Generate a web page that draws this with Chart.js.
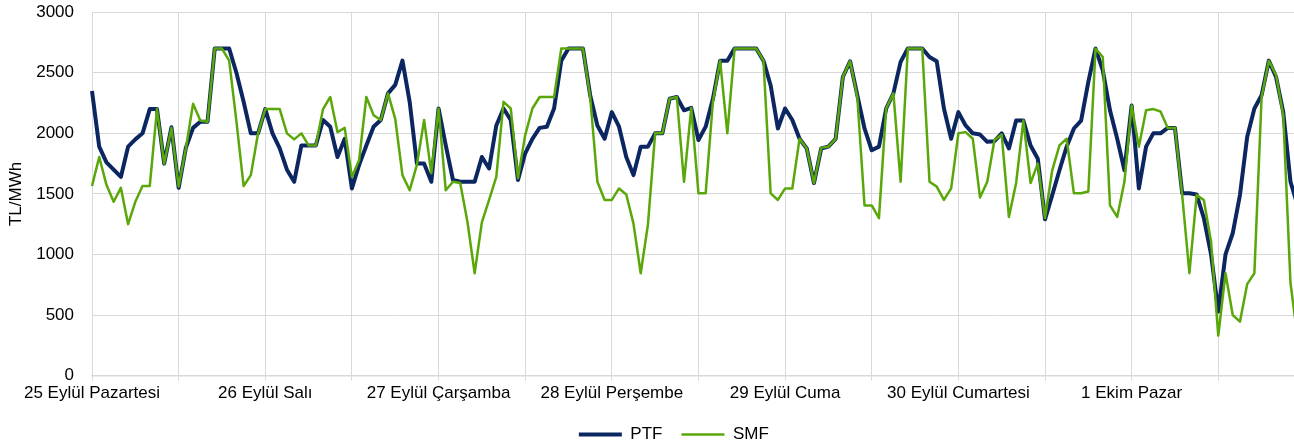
<!DOCTYPE html>
<html>
<head>
<meta charset="utf-8">
<script src="https://cdn.jsdelivr.net/npm/chart.js@4"></script>
<style>
  html, body { margin: 0; padding: 0; overflow: hidden; background: #fff; }
  #wrap { width: 1310px; height: 462px; margin-top: -16px; position: relative; }
</style>
</head>
<body>
<div id="wrap"><canvas id="chart"></canvas></div>
<script>
// günler (her gün 24 saat)
const days = ['25 Eylül Pazartesi', '26 Eylül Salı', '27 Eylül Çarşamba', '28 Eylül Perşembe',
              '29 Eylül Cuma', '30 Eylül Cumartesi', '1 Ekim Pazar'];

const yTicks = [0, 500, 1000, 1500, 2000, 2500, 3000];

// PTF saatlik (TL/MWh)
const ptf = [
  2350, 1890, 1760, 1700, 1640, 1890, 1950, 2000, 2200, 2200, 1750, 2050, 1550, 1880, 2045, 2095, 2095, 2700, 2700, 2700, 2500, 2260, 2000, 2000,
  2200, 2000, 1875, 1700, 1600, 1900, 1900, 1900, 2110, 2055, 1805, 1955, 1545, 1740, 1900, 2055, 2110, 2330, 2400, 2600, 2260, 1750, 1750, 1600,
  2205, 1900, 1615, 1600, 1600, 1600, 1805, 1710, 2065, 2205, 2110, 1615, 1835, 1955, 2045, 2055, 2205, 2600, 2700, 2700, 2700, 2315, 2065, 1955,
  2175, 2055, 1805, 1655, 1890, 1890, 2000, 2000, 2285, 2300, 2190, 2210, 1945, 2055, 2285, 2600, 2600, 2700, 2700, 2700, 2700, 2600, 2395, 2040,
  2205, 2110, 1955, 1875, 1590, 1875, 1890, 1955, 2465, 2595, 2315, 2040, 1860, 1890, 2205, 2330, 2590, 2700, 2700, 2700, 2630, 2595, 2205, 1955,
  2175, 2065, 2000, 1990, 1930, 1935, 2000, 1875, 2105, 2105, 1900, 1790, 1290, 1490, 1695, 1890, 2040, 2105, 2425, 2700, 2520, 2190, 1955, 1695,
  2230, 1545, 1890, 2000, 2000, 2045, 2045, 1505, 1505, 1495, 1300, 1000, 530, 1000, 1175, 1490, 1970, 2205, 2315, 2600, 2465, 2175, 1600, 1400
];

// SMF saatlik (TL/MWh)
const smf = [
  1565, 1805, 1575, 1435, 1550, 1250, 1435, 1565, 1565, 2200, 1750, 2045, 1560, 1875, 2245, 2105, 2095, 2700, 2700, 2600, 2100, 1565, 1655, 2000,
  2200, 2200, 2200, 2000, 1950, 2000, 1900, 1900, 2200, 2300, 2010, 2045, 1640, 1780, 2300, 2150, 2110, 2330, 2120, 1655, 1530, 1740, 2110, 1670,
  2205, 1530, 1600, 1590, 1270, 845, 1265, 1450, 1640, 2260, 2205, 1630, 1985, 2205, 2300, 2300, 2300, 2700, 2700, 2700, 2700, 2300, 1600, 1450,
  1450, 1545, 1495, 1255, 845, 1245, 2000, 2000, 2285, 2300, 1600, 2210, 1505, 1505, 2260, 2600, 2000, 2700, 2700, 2700, 2700, 2600, 1505, 1450,
  1545, 1545, 1955, 1875, 1590, 1880, 1890, 1955, 2465, 2595, 2300, 1405, 1405, 1300, 2205, 2330, 1600, 2700, 2700, 2700, 1600, 1560, 1450, 1545,
  2000, 2010, 1955, 1470, 1600, 1945, 1990, 1310, 1590, 2105, 1590, 1750, 1300, 1695, 1900, 1955, 1505, 1505, 1520, 2700, 2630, 1405, 1310, 1600,
  2230, 1890, 2190, 2200, 2180, 2045, 2045, 1490, 845, 1490, 1450, 1105, 330, 845, 500, 445, 755, 845, 2300, 2600, 2480, 2150, 765, 300
];

const labels = [];
days.forEach(d => {
  for (let h = 0; h < 24; h++) labels.push(d + ' ' + String(h).padStart(2, '0') + ':00');
});

const font = { family: '"Liberation Sans", Arial, sans-serif', size: 17 };

// legend'i grafik alanına göre biraz sağa kaydır
const legendShift = {
  id: 'legendShift',
  afterLayout(chart) {
    chart.legend.left += 25;
    chart.legend.right += 25;
  }
};

new Chart(document.getElementById('chart'), {
  type: 'line',
  data: {
    labels: labels,
    datasets: [
      { label: 'PTF', data: ptf, borderColor: '#0c2661', backgroundColor: '#0c2661', borderWidth: 4, order: 2 },
      { label: 'SMF', data: smf, borderColor: '#5aa70a', backgroundColor: '#5aa70a', borderWidth: 2.5, order: 1 }
    ]
  },
  options: {
    responsive: true,
    maintainAspectRatio: false,
    animation: false,
    layout: { padding: { top: 0, right: 12.3, bottom: -7, left: 0 } },
    elements: { point: { radius: 0 }, line: { tension: 0, borderJoinStyle: 'round' } },
    plugins: {
      tooltip: { enabled: false },
      legend: {
        position: 'bottom',
        reverse: true,
        labels: { usePointStyle: true, pointStyle: 'line', pointStyleWidth: 43, padding: 19, color: '#000', font: font }
      }
    },
    scales: {
      x: {
        grid: { color: '#d9d9d9', lineWidth: 1, tickLength: 5 },
        border: { color: '#d9d9d9', width: 1.5 },
        ticks: {
          autoSkip: false, maxRotation: 0, minRotation: 0, padding: 3, color: '#000', font: font,
          callback: function(v, i) {
            if (i % 24 === 0) return days[i / 24];
            if (i % 12 === 0) return '';
            return null;
          }
        }
      },
      y: {
        min: 0, max: 3000,
        afterFit: function(s) { s.width = 92; },
        afterBuildTicks: function(s) { s.ticks = yTicks.map(v => ({ value: v })); },
        grid: { color: '#d9d9d9', lineWidth: 1, drawTicks: false },
        border: { color: '#d9d9d9' },
        ticks: { padding: 18, color: '#000', font: font, callback: v => String(v) },
        title: { display: true, text: 'TL/MWh', color: '#000', font: font, padding: { top: 6, bottom: 0 } }
      }
    }
  },
  plugins: [legendShift]
});
</script>
</body>
</html>
